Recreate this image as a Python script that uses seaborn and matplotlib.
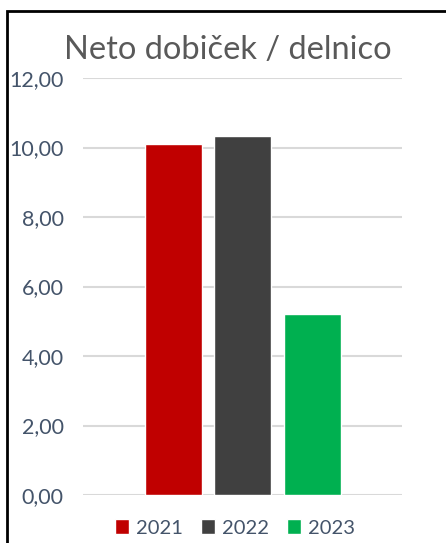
import seaborn as sns
import matplotlib.pyplot as plt
from matplotlib.patches import Rectangle, Patch

# podatki
years = ['2021', '2022', '2023']
eps = [10.10, 10.33, 5.21]
colors = ['#C00000', '#404040', '#00B050']
yticks = [0, 2, 4, 6, 8, 10, 12]
ytick_labels = ['0,00', '2,00', '4,00', '6,00', '8,00', '10,00', '12,00']

sns.set_style('white')
plt.rcParams['font.family'] = ['Lato', 'DejaVu Sans']

fig = plt.figure(figsize=(4.46, 5.43), dpi=100)
ax = fig.add_axes([83 / 446, 48 / 543, 319 / 446, 417 / 543])

sns.barplot(x=years, y=eps, hue=years, palette=colors, width=0.82,
            dodge=False, legend=False, saturation=1, ax=ax)

ax.set_xlim(-1.3, 3.29)
ax.set_ylim(0, 12)
ax.set_yticks(yticks)
ax.set_yticklabels(ytick_labels, color='#44546A', fontsize=15.5)
ax.set_xticks([])
ax.tick_params(axis='y', length=0, pad=14)
ax.yaxis.grid(True, color='#D9D9D9', linewidth=1.5)
ax.set_axisbelow(True)
for s in ax.spines.values():
    s.set_visible(False)

fig.text(228 / 446, 1 - 50 / 543, 'Neto dobiček / delnico', ha='center', va='center',
         fontsize=23.5, color='#595959')

handles = [Patch(facecolor=c, label=y) for c, y in zip(colors, years)]
fig.legend(handles=handles, loc='center', bbox_to_anchor=(0.527, 1 - 528 / 543),
           ncol=3, frameon=False, fontsize=14.5, handlelength=0.7, handleheight=0.7,
           handletextpad=0.35, columnspacing=0.9, labelcolor='#44546A')

# okvir grafa
fig.patches.append(Rectangle((7 / 446, -0.2), 1.2, 1.2 - 11 / 543, transform=fig.transFigure,
                             fill=False, edgecolor='black', linewidth=2))

fig.savefig('out.png', dpi=100)
